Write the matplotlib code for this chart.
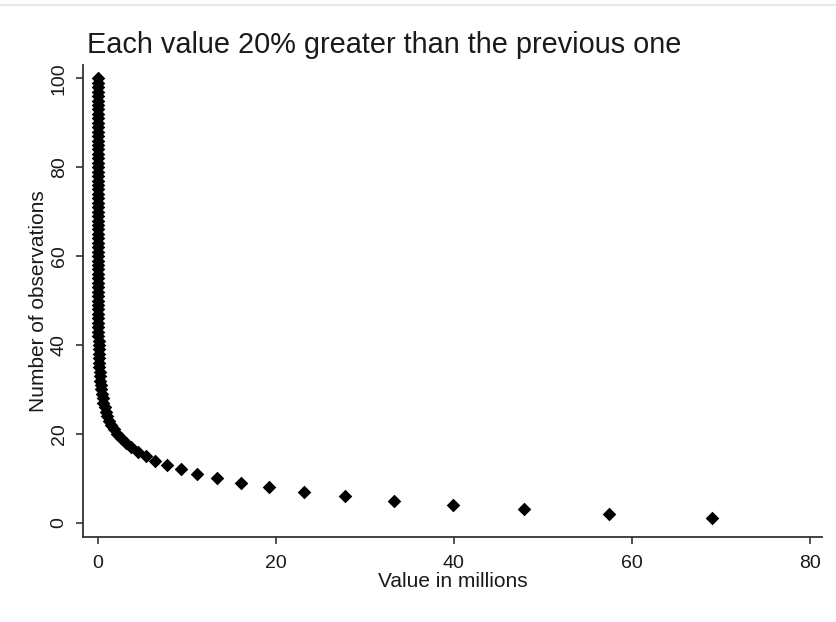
import matplotlib
matplotlib.use("Agg")
import matplotlib.pyplot as plt
from matplotlib.lines import Line2D

plt.rcParams["font.family"] = ["Liberation Sans", "DejaVu Sans"]

# Values in millions, largest first; each one is 20% greater than the next
values = [
    69.0, 57.5, 47.92, 39.93, 33.28, 27.73, 23.11, 19.26, 16.05, 13.37,
    11.14, 9.287, 7.739, 6.449, 5.374, 4.479, 3.732, 3.110, 2.592, 2.160,
    1.800, 1.500, 1.250, 1.042, 0.8681, 0.7234, 0.6029, 0.5024, 0.4187, 0.3489,
    0.2907, 0.2423, 0.2019, 0.1683, 0.1402, 0.1168, 0.0974, 0.0811, 0.0676, 0.0563,
    0.0470, 0.0391, 0.0326, 0.0272, 0.0226, 0.0189, 0.0157, 0.0131, 0.0109, 0.0091,
    0.0076, 0.0063, 0.0053, 0.0044, 0.0037, 0.0030, 0.0025, 0.0021, 0.0018, 0.0015,
    0.0012, 0.0010, 0.0009, 0.0007, 0.0006, 0.0005, 0.0004, 0.0003, 0.0003, 0.0002,
    0.0002, 0.0002, 0.0001, 0.0001, 0.0001, 0.0001, 0.0001, 0.0, 0.0, 0.0,
    0.0, 0.0, 0.0, 0.0, 0.0, 0.0, 0.0, 0.0, 0.0, 0.0,
    0.0, 0.0, 0.0, 0.0, 0.0, 0.0, 0.0, 0.0, 0.0, 0.0,
]
counts = list(range(1, len(values) + 1))

x_ticks = [0, 20, 40, 60, 80]
y_ticks = [0, 20, 40, 60, 80, 100]

title = "Each value 20% greater than the previous one"
x_label = "Value in millions"
y_label = "Number of observations"

fig = plt.figure(figsize=(8.37, 6.22), dpi=100)
fig.patch.set_facecolor("white")

# thin light rule along the top edge
fig.add_artist(Line2D([0, 1], [1 - 5 / 622, 1 - 5 / 622], color="#e3e8ec",
                      lw=1.5, transform=fig.transFigure))

ax = fig.add_axes([83 / 837, 1 - 537 / 622, (822 - 83) / 837, (537 - 65) / 622])
ax.scatter(values, counts, marker="D", s=48, color="black", linewidths=0, zorder=3)

ax.set_xlim(-1.7, 81.4)
ax.set_ylim(-3.2, 103)
ax.set_xticks(x_ticks)
ax.set_yticks(y_ticks)

spine_color = "#333333"
for side in ("top", "right"):
    ax.spines[side].set_visible(False)
for side in ("left", "bottom"):
    ax.spines[side].set_color(spine_color)
    ax.spines[side].set_linewidth(1.3)

ax.tick_params(axis="both", length=5, width=1.2, color=spine_color,
               labelsize=14, labelcolor="#1a1a1a")
ax.tick_params(axis="x", pad=8)
ax.tick_params(axis="y", pad=6)
for lbl in ax.get_yticklabels():
    lbl.set_rotation(90)
    lbl.set_va("center")

ax.set_xlabel(x_label, fontsize=15, color="#1a1a1a", labelpad=0)
ax.set_ylabel(y_label, fontsize=15, color="#1a1a1a", labelpad=2)

fig.text(87 / 837, 1 - 53 / 622, title, fontsize=20.8, color="#1a1a1a",
         ha="left", va="baseline")

fig.savefig("out.png", dpi=100, facecolor="white")
